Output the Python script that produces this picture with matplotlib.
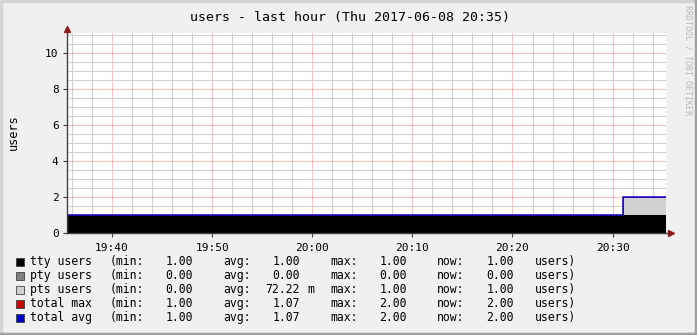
# -*- coding: utf-8 -*-

import matplotlib
matplotlib.use('Agg')
import matplotlib.pyplot as plt
import matplotlib.dates as mdate
import matplotlib.ticker as mtick
import matplotlib.patches as mpatches
import pandas as pd

plt.rcParams['font.family'] = ['DejaVu Sans Mono']

# data (step changes only, rrd samples)
times = pd.to_datetime(['2017-06-08 19:35:00', '2017-06-08 20:31:00', '2017-06-08 20:35:20'])
tty_users = [1, 1, 1]
pty_users = [0, 0, 0]
pts_users = [0, 1, 1]
total_max = [1, 2, 2]
total_avg = [1, 2, 2]

legend_rows = [
    ('tty users', '#000000', '1.00', '1.00', '', '1.00', '1.00'),
    ('pty users', '#808080', '0.00', '0.00', '', '0.00', '0.00'),
    ('pts users', '#d0d0d0', '0.00', '72.22', 'm', '1.00', '1.00'),
    ('total max', '#cc0000', '1.00', '1.07', '', '2.00', '2.00'),
    ('total avg', '#0000cc', '1.00', '1.07', '', '2.00', '2.00'),
]

title = 'users - last hour (Thu 2017-06-08 20:35)'
x_start = pd.Timestamp('2017-06-08 19:35:30')
x_end = pd.Timestamp('2017-06-08 20:35:20')

W, H = 697, 335
fig = plt.figure(figsize=(W / 100, H / 100), dpi=100, facecolor='#f0f0f0')

# frame around image
fig.add_artist(plt.Line2D([0.002, 0.002], [0, 1], color='#d4d4d4', lw=2.5, transform=fig.transFigure))
fig.add_artist(plt.Line2D([0, 1], [0.997, 0.997], color='#d4d4d4', lw=2.5, transform=fig.transFigure))
fig.add_artist(plt.Line2D([0, 1], [0.003, 0.003], color='#a0a0a0', lw=2.5, transform=fig.transFigure))
fig.add_artist(plt.Line2D([0.998, 0.998], [0, 1], color='#a0a0a0', lw=2.5, transform=fig.transFigure))

ax = fig.add_axes([67 / W, (H - 233.3) / H, (666 - 67) / W, (233.3 - 33) / H])
ax.set_facecolor('white')

base = [0] * len(times)
stack1 = [a + b for a, b in zip(tty_users, pty_users)]
stack2 = [a + b for a, b in zip(stack1, pts_users)]
ax.fill_between(times, base, tty_users, step='post', color='#000000', lw=0, zorder=3)
ax.fill_between(times, tty_users, stack1, step='post', color='#808080', lw=0, zorder=3)
ax.fill_between(times, stack1, stack2, step='post', color='#d0d0d0', lw=0, zorder=3)
ax.step(times, total_max, where='post', color='#cc0000', lw=0.5, zorder=4)
ax.step(times, total_avg, where='post', color='#0000cc', lw=1.1, zorder=5)

ax.set_xlim(x_start, x_end)
ax.set_ylim(0, 11.1)

ax.xaxis.set_major_locator(mdate.MinuteLocator(byminute=range(0, 60, 10)))
ax.xaxis.set_minor_locator(mdate.MinuteLocator(byminute=range(0, 60, 2)))
ax.xaxis.set_major_formatter(mdate.DateFormatter('%H:%M'))
ax.yaxis.set_major_locator(mtick.MultipleLocator(2))
ax.yaxis.set_minor_locator(mtick.MultipleLocator(0.5))

ax.grid(which='minor', color='#d0d0d0', lw=0.8)
ax.grid(which='major', color='#f09090', lw=0.8)
for l in ax.get_xgridlines() + ax.get_ygridlines():
    l.set_zorder(6)
    l.set_alpha(0.55)
for l in ax.xaxis.get_minorticklines() + ax.yaxis.get_minorticklines():
    pass
for l in ax.xaxis.get_gridlines(which='minor') if False else []:
    pass

for s in ax.spines.values():
    s.set_visible(False)

ax.tick_params(axis='both', which='major', length=3, width=0.8, color='#404040',
               labelsize=8, labelcolor='#000000', pad=3)
ax.tick_params(axis='both', which='minor', length=0)
ax.tick_params(axis='x', which='major', pad=4)

# axis lines with arrows
ax.plot([0, 1.008], [0, 0], transform=ax.transAxes, color='#404040', lw=1, clip_on=False, zorder=7)
ax.plot([0, 0], [0, 1.02], transform=ax.transAxes, color='#404040', lw=1, clip_on=False, zorder=7)
ax.plot([1.008], [0], transform=ax.transAxes, marker='>', ms=4, color='#8b1a1a', clip_on=False, zorder=8)
ax.plot([0], [1.02], transform=ax.transAxes, marker='^', ms=4, color='#8b1a1a', clip_on=False, zorder=8)

ax.set_ylabel('users', fontsize=8.5, va='center')
ax.yaxis.set_label_coords((13 - 67) / (666 - 67), (233.3 - 132) / (233.3 - 33))

fig.text(350 / W, 1 - 17 / H, title, ha='center', va='center', fontsize=9.5)
fig.text(688 / W, 1 - 5 / H, 'RRDTOOL / TOBI OETIKER', rotation=-90, ha='center', va='top',
         fontsize=6, color='#b8b8b8')

# legend
for i, (name, col, vmin, vavg, unit, vmax, vnow) in enumerate(legend_rows):
    y = 1 - (261.7 + 14 * i) / H
    fig.patches.append(mpatches.Rectangle((16 / W, y - 4 / H), 8 / W, 8 / H,
                                          transform=fig.transFigure, facecolor=col,
                                          edgecolor='#404040', lw=0.6))
    fs = 8.3
    fig.text(30 / W, y, name, va='center', fontsize=fs)
    fig.text(110 / W, y, '(min:', va='center', fontsize=fs)
    fig.text(193 / W, y, vmin, va='center', ha='right', fontsize=fs)
    fig.text(223 / W, y, 'avg:', va='center', fontsize=fs)
    fig.text(300 / W, y, vavg, va='center', ha='right', fontsize=fs)
    if unit:
        fig.text(307 / W, y, unit, va='center', fontsize=fs)
    fig.text(330 / W, y, 'max:', va='center', fontsize=fs)
    fig.text(407 / W, y, vmax, va='center', ha='right', fontsize=fs)
    fig.text(437 / W, y, 'now:', va='center', fontsize=fs)
    fig.text(514 / W, y, vnow, va='center', ha='right', fontsize=fs)
    fig.text(535 / W, y, 'users)', va='center', fontsize=fs)

fig.savefig('out.png', dpi=100, facecolor=fig.get_facecolor())
